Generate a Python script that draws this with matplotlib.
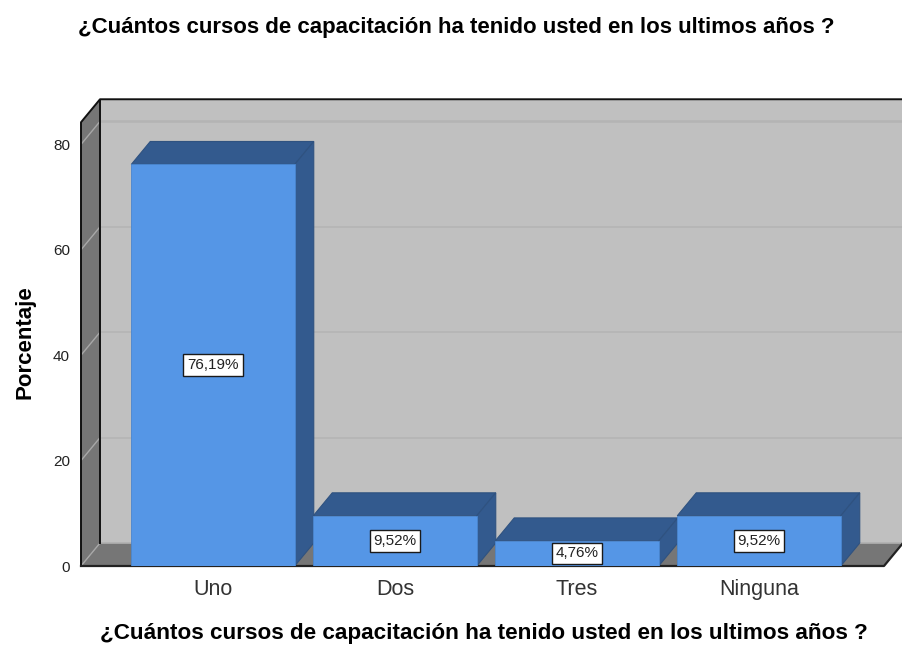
import matplotlib
matplotlib.use("Agg")
import matplotlib.pyplot as plt
from matplotlib.patches import Polygon, Rectangle

plt.rcParams["font.family"] = ["Liberation Sans", "DejaVu Sans"]

# Data
categories = ["Uno", "Dos", "Tres", "Ninguna"]
percent = [76.19, 9.52, 4.76, 9.52]
labels = ["76,19%", "9,52%", "4,76%", "9,52%"]
y_ticks = [0, 20, 40, 60, 80]
title = "¿Cuántos cursos de capacitación ha tenido usted en los ultimos años ?"

W, H = 902, 645
fig = plt.figure(figsize=(W / 100, H / 100), dpi=100)

# axes box in pixels
left, right, bottom, top = 81, 902, 566, 99
ax = fig.add_axes([left / W, 1 - bottom / H, (right - left) / W, (bottom - top) / H])

px_x = 182.0
px_y = 5.27
x0 = 213
ax.set_xlim((left - x0) / px_x, (right - x0) / px_x)
ax.set_ylim(0, (bottom - top) / px_y)
for s in ax.spines.values():
    s.set_visible(False)
ax.patch.set_visible(False)

# 3D depth in data units
dx = 19 / px_x
dy = 23 / px_y
bar_w = 163.5 / px_x
x_l = (81 - x0) / px_x
x_r = (884 - x0) / px_x
y_top = 84.2

# back wall, side wall, floor
ax.add_patch(Polygon([(x_l + dx, dy), (x_r + 1, dy), (x_r + 1, y_top + dy), (x_l + dx, y_top + dy)],
                     fc="#c0c0c0", ec="none", zorder=1))
ax.add_patch(Polygon([(x_l, 0), (x_l + dx, dy), (x_l + dx, y_top + dy), (x_l, y_top)],
                     fc="#767676", ec="none", zorder=1))
ax.add_patch(Polygon([(x_l, 0), (x_r, 0), (x_r + dx, dy), (x_l + dx, dy)],
                     fc="#767676", ec="none", zorder=1))

# grid lines
for t in y_ticks[1:]:
    ax.plot([x_l + dx, x_r + 1], [t + dy, t + dy], color="#b4b4b4", lw=1.2, zorder=2)
    ax.plot([x_l, x_l + dx], [t, t + dy], color="#a8a8a8", lw=1, zorder=2)
ax.plot([x_l + dx, x_r + 1], [y_top, y_top], color="#b4b4b4", lw=1.2, zorder=2)
ax.plot([x_l, x_l + dx], [0, dy], color="#a8a8a8", lw=1, zorder=2)
ax.plot([x_l + dx, x_r + 1], [dy, dy], color="#b0b0b0", lw=1.2, zorder=2)

# wall outlines
ax.plot([x_l, x_l, x_l + dx, x_r + 1], [0, y_top, y_top + dy, y_top + dy], color="#111111", lw=1.4, zorder=3, clip_on=False)
ax.plot([x_l + dx, x_l + dx], [dy, y_top + dy], color="#111111", lw=1.4, zorder=3)
ax.plot([x_l, x_r, x_r + dx], [0, 0, dy], color="#222222", lw=1.6, zorder=3, clip_on=False)

# bars
for i, v in enumerate(percent):
    l = i - bar_w / 2
    r = i + bar_w / 2
    ax.add_patch(Polygon([(l, v), (r, v), (r + dx, v + dy), (l + dx, v + dy)],
                         fc="#335a8e", ec="#2f5280", lw=0.8, zorder=4))
    ax.add_patch(Polygon([(r, 0), (r + dx, dy), (r + dx, v + dy), (r, v)],
                         fc="#335a8e", ec="#2f5280", lw=0.8, zorder=4))
    ax.add_patch(Rectangle((l, 0), bar_w, v, fc="#5596e6", ec="#4a86cf", lw=0.6, zorder=5))
    ax.text(i, v / 2, labels[i], ha="center", va="center", fontsize=11, color="#222222", zorder=6,
            bbox=dict(boxstyle="square,pad=0.25", fc="white", ec="#1a1a1a", lw=1.0))

ax.set_xticks(range(len(categories)))
ax.set_xticklabels(categories, fontsize=15.5, color="#333333", va="baseline")
ax.set_yticks(y_ticks)
ax.set_yticklabels([str(t) for t in y_ticks], fontsize=11, color="#222222")
ax.tick_params(axis="x", length=0, pad=21)
ax.tick_params(axis="y", length=0, pad=8)

fig.text(456 / W, 1 - 27 / H, title, ha="center", va="center", fontsize=16, fontweight="bold")
fig.text(484 / W, 1 - 634 / H, title, ha="center", va="center", fontsize=16.2, fontweight="bold")
fig.text(25 / W, 1 - 342 / H, "Porcentaje", ha="center", va="center", rotation=90, fontsize=16, fontweight="bold")

fig.savefig("out.png", dpi=100)
